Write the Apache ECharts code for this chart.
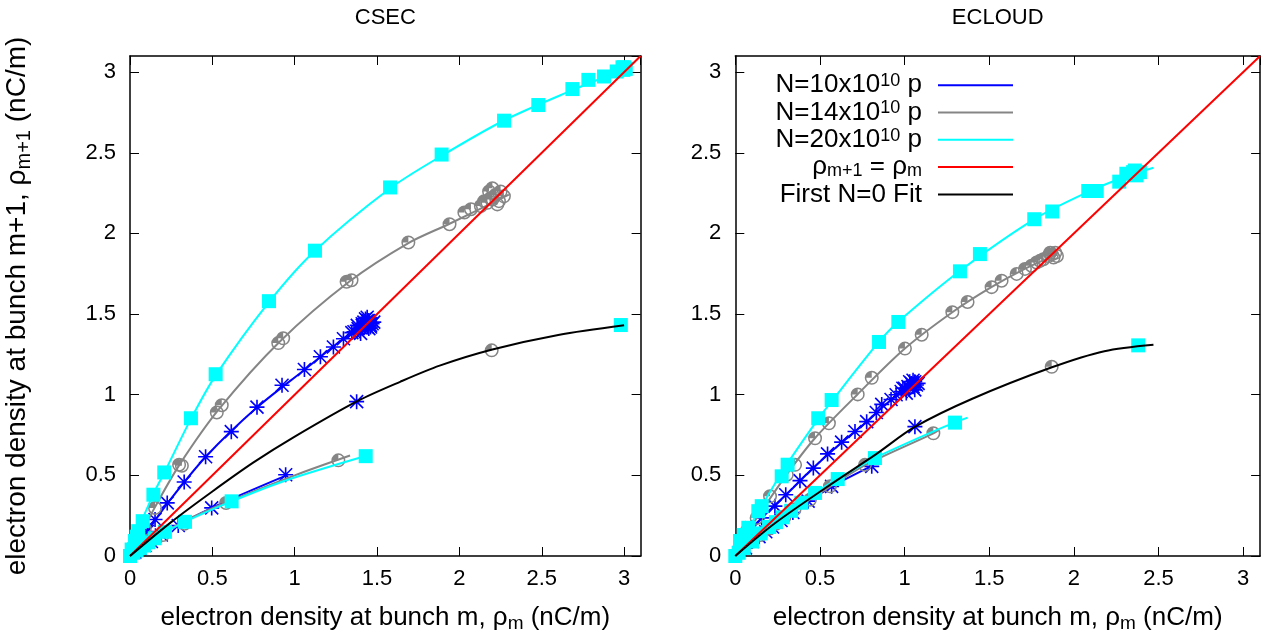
<!DOCTYPE html>
<html>
<head>
<meta charset="utf-8">
<script src="https://cdn.jsdelivr.net/npm/echarts@6/dist/echarts.min.js"></script>
<style>html,body{margin:0;padding:0;background:#fff}#c{width:1261px;height:638px}</style>
</head>
<body>
<div id="c"></div>
<script>
// ---------- data (x = rho_m, y = rho_m+1, nC/m) ----------
const panelTitles = ['CSEC', 'ECLOUD'];
const legendNames = ['N=10x10^10 p', 'N=14x10^10 p', 'N=20x10^10 p', 'ρm+1 = ρm', 'First N=0 Fit'];

// CSEC
const csecBlueUp = [[0.02,0.04],[0.04,0.07],[0.07,0.105],[0.105,0.152],[0.152,0.226],[0.226,0.329],[0.329,0.459],[0.459,0.615],[0.615,0.771],[0.771,0.923],[0.923,1.059],[1.059,1.156],[1.156,1.235],[1.235,1.296],[1.296,1.347],[1.347,1.385],[1.385,1.41],[1.41,1.43],[1.43,1.44],[1.44,1.42],[1.42,1.45],[1.45,1.46],[1.46,1.43],[1.43,1.47],[1.47,1.44],[1.44,1.48],[1.48,1.45],[1.45,1.41],[1.41,1.44],[1.44,1.46],[1.46,1.42],[1.40,1.38],[1.38,1.43],[1.36,1.39]];
const csecBlueDown = [[1.376,0.957],[0.945,0.504],[0.496,0.298],[0.293,0.189],[0.19,0.13],[0.13,0.09],[0.09,0.065],[0.06,0.045],[0.03,0.025]];
const csecBlueUpFit = [[0.11,0.16],[0.23,0.33],[0.46,0.615],[0.77,0.92],[1.06,1.155],[1.3,1.35],[1.5,1.48]];
const csecBlueDownFit = [[0.05,0.04],[0.2,0.14],[0.5,0.30],[0.95,0.50]];
const csecGrayUp = [[0.03,0.06],[0.06,0.11],[0.09,0.17],[0.152,0.298],[0.298,0.566],[0.315,0.56],[0.527,0.89],[0.557,0.935],[0.9,1.32],[0.93,1.35],[1.315,1.70],[1.345,1.71],[1.69,1.944],[1.94,2.057],[2.03,2.13],[2.07,2.15],[2.13,2.17],[2.17,2.19],[2.2,2.21],[2.22,2.24],[2.24,2.2],[2.18,2.26],[2.2,2.28],[2.27,2.23],[2.23,2.18],[2.15,2.2],[2.25,2.26],[2.19,2.22]];
const csecGrayDown = [[2.196,1.275],[1.265,0.593],[0.583,0.329],[0.33,0.2],[0.2,0.13],[0.13,0.09],[0.08,0.06]];
const csecGrayUpFit = [[0.05,0.1],[0.15,0.3],[0.3,0.565],[0.54,0.91],[0.91,1.33],[1.33,1.70],[1.69,1.94],[1.94,2.06],[2.2,2.19],[2.3,2.24]];
const csecGrayDownFit = [[0.05,0.04],[0.3,0.2],[0.58,0.33],[1.0,0.5],[1.336,0.623]];
const csecCyanUp = [[0.0,0.0],[0.01,0.04],[0.03,0.093],[0.04,0.12],[0.05,0.154],[0.077,0.216],[0.142,0.38],[0.208,0.518],[0.37,0.854],[0.52,1.127],[0.844,1.58],[1.123,1.893],[1.579,2.285],[1.892,2.489],[2.271,2.699],[2.479,2.796],[2.686,2.895],[2.783,2.952],[2.878,2.973],[2.955,3.004],[2.995,3.014],[3.0,3.03],[3.01,3.02],[2.99,3.03]];
const csecCyanDown = [[2.98,1.432],[1.431,0.619],[0.617,0.339],[0.334,0.212],[0.212,0.15],[0.15,0.11],[0.11,0.085],[0.085,0.065],[0.06,0.05],[0.04,0.035],[0.02,0.02]];
const csecCyanUpFit = [[0,0],[0.05,0.16],[0.14,0.38],[0.21,0.52],[0.37,0.85],[0.52,1.12],[0.84,1.57],[1.12,1.89],[1.58,2.28],[1.89,2.48],[2.27,2.70],[2.69,2.89],[3.0,3.02],[3.05,3.06]];
const csecCyanDownFit = [[0,0],[0.15,0.11],[0.33,0.21],[0.62,0.34],[0.95,0.47],[1.43,0.62]];
const csecN0Fit = [[0,0],[0.25,0.21],[0.5,0.40],[0.75,0.58],[1.0,0.74],[1.38,0.96],[1.64,1.08],[1.88,1.18],[2.2,1.28],[2.6,1.37],[3.0,1.43]];

// ECLOUD
const ecBlueUp = [[0.03,0.06],[0.06,0.11],[0.097,0.175],[0.156,0.236],[0.234,0.309],[0.298,0.38],[0.382,0.467],[0.461,0.545],[0.545,0.633],[0.628,0.706],[0.707,0.772],[0.776,0.833],[0.833,0.89],[0.865,0.94],[0.92,0.97],[0.95,1.0],[0.98,1.02],[1.0,1.04],[1.02,1.05],[1.04,1.07],[1.05,1.05],[1.06,1.08],[1.07,1.06],[1.03,1.08],[1.08,1.07],[1.01,1.01],[1.05,1.09],[0.99,1.04],[1.06,1.03]];
const ecBlueDown = [[1.061,0.802],[0.806,0.556],[0.569,0.432],[0.43,0.34],[0.34,0.27],[0.27,0.22],[0.22,0.18],[0.18,0.15],[0.14,0.12],[0.1,0.09],[0.06,0.05]];
const ecBlueUpFit = [[0.05,0.1],[0.16,0.24],[0.3,0.38],[0.46,0.545],[0.63,0.705],[0.78,0.835],[0.9,0.95],[1.11,1.11]];
const ecBlueDownFit = [[0.05,0.05],[0.33,0.27],[0.57,0.43],[0.81,0.56]];
const ecGrayUp = [[0.03,0.08],[0.067,0.154],[0.126,0.236],[0.205,0.37],[0.304,0.504],[0.353,0.565],[0.471,0.73],[0.553,0.823],[0.723,1.002],[0.806,1.105],[1.002,1.286],[1.101,1.372],[1.282,1.512],[1.372,1.575],[1.514,1.667],[1.573,1.707],[1.662,1.749],[1.711,1.78],[1.75,1.80],[1.78,1.82],[1.80,1.83],[1.82,1.84],[1.85,1.86],[1.87,1.87],[1.88,1.85],[1.86,1.88],[1.9,1.86],[1.89,1.88]];
const ecGrayDown = [[1.869,1.173],[1.17,0.761],[0.766,0.565],[0.559,0.432],[0.441,0.349],[0.35,0.29],[0.29,0.24],[0.24,0.2],[0.2,0.17],[0.15,0.13],[0.1,0.09],[0.05,0.05]];
const ecGrayUpFit = [[0.03,0.08],[0.13,0.24],[0.3,0.5],[0.47,0.73],[0.72,1.0],[1.0,1.285],[1.28,1.51],[1.51,1.665],[1.71,1.78],[1.9,1.87]];
const ecGrayDownFit = [[0.05,0.05],[0.3,0.25],[0.56,0.43],[0.77,0.565],[1.17,0.76],[1.2,0.78]];
const ecCyanUp = [[0.0,0.0],[0.028,0.093],[0.05,0.13],[0.077,0.175],[0.136,0.278],[0.156,0.309],[0.274,0.494],[0.309,0.566],[0.49,0.854],[0.569,0.967],[0.849,1.327],[0.963,1.451],[1.327,1.765],[1.445,1.872],[1.766,2.088],[1.872,2.136],[2.085,2.263],[2.135,2.263],[2.268,2.321],[2.31,2.37],[2.35,2.38],[2.39,2.38],[2.37,2.36],[2.36,2.39]];
const ecCyanDown = [[2.38,1.306],[1.298,0.827],[0.825,0.607],[0.605,0.477],[0.471,0.391],[0.39,0.33],[0.33,0.28],[0.28,0.24],[0.24,0.21],[0.2,0.18],[0.15,0.14],[0.1,0.09],[0.05,0.05],[0.02,0.02]];
const ecCyanUpFit = [[0,0],[0.08,0.17],[0.15,0.3],[0.3,0.56],[0.49,0.85],[0.57,0.96],[0.85,1.33],[0.96,1.45],[1.33,1.77],[1.77,2.09],[2.1,2.265],[2.3,2.35],[2.47,2.407]];
const ecCyanDownFit = [[0.02,0.02],[0.2,0.18],[0.47,0.39],[0.6,0.475],[0.83,0.61],[1.1,0.74],[1.3,0.83],[1.372,0.858]];
const ecN0Fit = [[0,0],[0.23,0.2],[0.53,0.42],[0.83,0.63],[1.06,0.80],[1.4,0.975],[1.87,1.17],[2.18,1.27],[2.47,1.31]];

const diagonal = [[0,0],[3.1,3.1]];

// ---------- style ----------
const FONT = 'Liberation Sans';
const BLUE = '#0000ff', GRAY = '#858585', CYAN = '#00ffff', RED = '#ff0000', BLACK = '#000000';
const STAR = 'path://M0,10.7L24,10.7L24,13.3L0,13.3Z M10.7,0L13.3,0L13.3,24L10.7,24Z M2.5,0.7L23.3,21.5L21.5,23.3L0.7,2.5Z M21.5,0.7L23.3,2.5L2.5,23.3L0.7,21.5Z';
const RING = 'path://M0,12A12,12,0,1,1,24,12A12,12,0,1,1,0,12Z M2.6,12A9.4,9.4,0,1,0,21.4,12A9.4,9.4,0,1,0,2.6,12Z M12,12L2.6,12A9.4,9.4,0,0,1,12,2.6Z';

const grids = [
  {left: 130, top: 56, width: 510.6, height: 502.3},
  {left: 735.3, top: 56, width: 524.8, height: 502.3}
];

function nameRich(size) {
  return {
    n: {fontFamily: FONT, fontSize: size, lineHeight: size + 5, color: '#000'},
    sub: {fontFamily: FONT, fontSize: Math.round(size * 0.72), lineHeight: 16, verticalAlign: 'bottom', color: '#000'}
  };
}

function xAxes(gi) {
  const base = {gridIndex: gi, type: 'value', min: 0, max: 3.1, interval: 0.5,
    splitLine: {show: false},
    axisLine: {show: true, onZero: false, lineStyle: {color: '#000', width: 1.5}},
    axisTick: {show: true, inside: true, length: 9, lineStyle: {color: '#000', width: 1}}};
  return [
    Object.assign({}, base, {position: 'bottom',
      axisLabel: {show: true, showMaxLabel: false, margin: 12, fontFamily: FONT, fontSize: 22, color: '#000'},
      name: '{n|electron density at bunch m, ρ}{sub|m}{n| (nC/m)}', nameLocation: 'middle', nameGap: 46,
      nameTextStyle: {rich: nameRich(26)}}),
    Object.assign({}, base, {position: 'top', axisLabel: {show: false}})
  ];
}
function yAxes(gi) {
  const base = {gridIndex: gi, type: 'value', min: 0, max: 3.1, interval: 0.5,
    splitLine: {show: false},
    axisLine: {show: true, onZero: false, lineStyle: {color: '#000', width: 1.5}},
    axisTick: {show: true, inside: true, length: 9, lineStyle: {color: '#000', width: 1}}};
  const left = Object.assign({}, base, {position: 'left',
    axisLabel: {show: true, showMaxLabel: false, margin: 14, fontFamily: FONT, fontSize: 22, color: '#000'}});
  if (gi === 0) {
    Object.assign(left, {name: '{n|electron density at bunch m+1, ρ}{sub|m+1}{n| (nC/m)}', nameLocation: 'middle',
      nameGap: 96, nameRotate: 90, nameTextStyle: {rich: nameRich(28)}});
  }
  return [left, Object.assign({}, base, {position: 'right', axisLabel: {show: false}})];
}

function scatter(data, gi, symbol, size, color, z) {
  return {type: 'scatter', xAxisIndex: gi * 2, yAxisIndex: gi * 2, data: data, symbol: symbol,
    symbolSize: size, itemStyle: {color: color, opacity: 1}, z: z, silent: true, animation: false};
}
function line(name, data, gi, color, z, smooth) {
  return {type: 'line', name: name, xAxisIndex: gi * 2, yAxisIndex: gi * 2, data: data, showSymbol: false,
    symbol: 'none', smooth: smooth, color: color, lineStyle: {color: color, width: 2}, itemStyle: {color: color},
    z: z, silent: true, animation: false};
}

const panels = [
  {blueUp: csecBlueUp, blueDown: csecBlueDown, blueUpFit: csecBlueUpFit, blueDownFit: csecBlueDownFit,
   grayUp: csecGrayUp, grayDown: csecGrayDown, grayUpFit: csecGrayUpFit, grayDownFit: csecGrayDownFit,
   cyanUp: csecCyanUp, cyanDown: csecCyanDown, cyanUpFit: csecCyanUpFit, cyanDownFit: csecCyanDownFit, n0: csecN0Fit},
  {blueUp: ecBlueUp, blueDown: ecBlueDown, blueUpFit: ecBlueUpFit, blueDownFit: ecBlueDownFit,
   grayUp: ecGrayUp, grayDown: ecGrayDown, grayUpFit: ecGrayUpFit, grayDownFit: ecGrayDownFit,
   cyanUp: ecCyanUp, cyanDown: ecCyanDown, cyanUpFit: ecCyanUpFit, cyanDownFit: ecCyanDownFit, n0: ecN0Fit}
];

const series = [];
panels.forEach(function (p, gi) {
  const L = gi === 1;
  series.push(scatter(p.blueUp.concat(p.blueDown), gi, STAR, 15, BLUE, 2));
  series.push(line(L ? legendNames[0] : '', p.blueUpFit, gi, BLUE, 3, 0.3));
  series.push(line('', p.blueDownFit, gi, BLUE, 3, 0.3));
  series.push(scatter(p.grayUp.concat(p.grayDown), gi, RING, 14, GRAY, 4));
  series.push(line(L ? legendNames[1] : '', p.grayUpFit, gi, GRAY, 5, 0.3));
  series.push(line('', p.grayDownFit, gi, GRAY, 5, 0.3));
  series.push(scatter(p.cyanUp.concat(p.cyanDown), gi, 'rect', 14, CYAN, 6));
  series.push(line(L ? legendNames[2] : '', p.cyanUpFit, gi, CYAN, 7, 0.3));
  series.push(line('', p.cyanDownFit, gi, CYAN, 7, 0.3));
  series.push(line(L ? legendNames[3] : '', diagonal, gi, RED, 8, false));
  series.push(line(L ? legendNames[4] : '', p.n0, gi, BLACK, 9, 0.3));
});

const legendLabels = {
  'N=10x10^10 p': '{n|N=10x10}{sup|10}{n| p}{gap|}',
  'N=14x10^10 p': '{n|N=14x10}{sup|10}{n| p}{gap|}',
  'N=20x10^10 p': '{n|N=20x10}{sup|10}{n| p}{gap|}',
  'ρm+1 = ρm': '{n|ρ}{sub|m+1}{n| = ρ}{sub|m}{gap|}',
  'First N=0 Fit': '{n|First N=0 Fit}{gap|}'
};

const option = {
  backgroundColor: '#ffffff',
  animation: false,
  graphic: panelTitles.map(function (t, i) {
    return {type: 'text', x: grids[i].left + grids[i].width / 2, y: 18, silent: true,
      style: {text: t, fontFamily: FONT, fontSize: 22, fill: '#000', align: 'center', verticalAlign: 'middle'}};
  }),
  grid: grids,
  xAxis: xAxes(0).concat(xAxes(1)),
  yAxis: yAxes(0).concat(yAxes(1)),
  legend: {
    orient: 'vertical', right: 243, top: 67, align: 'right', itemWidth: 75, itemHeight: 2, itemGap: 1.2,
    icon: 'rect', selectedMode: false, data: legendNames,
    formatter: function (n) { return legendLabels[n]; },
    textStyle: {rich: {
      n: {fontFamily: FONT, fontSize: 26, lineHeight: 26.3, color: '#000'},
      sub: {fontFamily: FONT, fontSize: 18, lineHeight: 12, verticalAlign: 'bottom', color: '#000'},
      sup: {fontFamily: FONT, fontSize: 18, lineHeight: 5, verticalAlign: 'top', color: '#000'},
      gap: {width: 11, lineHeight: 26.3}
    }}
  },
  series: series
};

const chart = echarts.init(document.getElementById('c'), null, {renderer: 'canvas'});
chart.setOption(option);
</script>
</body>
</html>
